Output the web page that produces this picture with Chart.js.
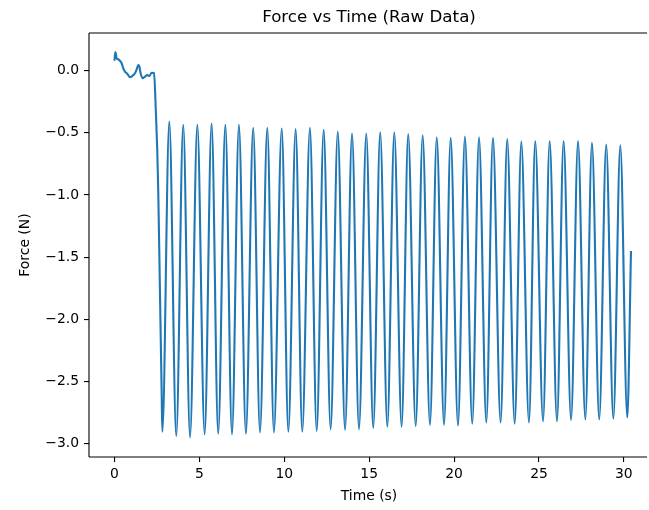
<!DOCTYPE html>
<html>
<head>
<meta charset="utf-8">
<script src="https://cdn.jsdelivr.net/npm/chart.js@4"></script>
<style>
  html, body { margin: 0; padding: 0; background: #fff; overflow: hidden; }
  canvas { display: block; }
</style>
</head>
<body>
<canvas id="forceChart" width="649" height="510"></canvas>
<script>
  // raw readings before the oscillation starts, and the drop
  var startTime = [0.00, 0.05, 0.13, 0.22, 0.32, 0.42, 0.52, 0.62, 0.72, 0.81, 0.91, 1.01, 1.11, 1.21,
                   1.31, 1.40, 1.46, 1.54, 1.66, 1.80, 1.93, 2.05, 2.19, 2.33, 2.44, 2.52, 2.58, 2.68, 2.78];
  var startForce = [0.080, 0.150, 0.100, 0.092, 0.080, 0.060, 0.019, -0.008, -0.021, -0.035, -0.053, -0.048, -0.035, -0.021,
                    0.011, 0.046, 0.038, -0.021, -0.061, -0.048, -0.035, -0.043, -0.016, -0.019, -0.34, -0.64, -0.98, -1.79, -2.59];

  // oscillation minima
  var troughTime = [2.82, 3.64, 4.45, 5.31, 6.11, 6.92, 7.74, 8.57, 9.39, 10.24, 11.06, 11.91, 12.73, 13.58,
                    14.40, 15.24, 16.07, 16.91, 17.74, 18.58, 19.41, 20.23, 21.07, 21.90, 22.74, 23.57, 24.41,
                    25.24, 26.06, 26.89, 27.73, 28.55, 29.38, 30.20];
  var troughForce = [-2.905, -2.94, -2.95, -2.925, -2.92, -2.925, -2.92, -2.91, -2.91, -2.905, -2.905, -2.90, -2.885, -2.89,
                     -2.885, -2.875, -2.865, -2.865, -2.86, -2.85, -2.85, -2.855, -2.84, -2.83, -2.83, -2.84, -2.83,
                     -2.82, -2.82, -2.81, -2.805, -2.805, -2.80, -2.79];

  // oscillation maxima
  var peakTime = [3.23, 4.05, 4.88, 5.72, 6.53, 7.33, 8.17, 9.00, 9.85, 10.67, 11.51, 12.32, 13.15, 13.99, 14.83,
                  15.65, 16.48, 17.30, 18.15, 18.98, 19.80, 20.64, 21.47, 22.29, 23.13, 23.96, 24.78, 25.63,
                  26.45, 27.30, 28.12, 28.96, 29.79];
  var peakForce = [-0.41, -0.435, -0.435, -0.425, -0.435, -0.435, -0.46, -0.46, -0.465, -0.47, -0.46, -0.475, -0.49, -0.505, -0.505,
                   -0.495, -0.495, -0.51, -0.52, -0.535, -0.54, -0.53, -0.535, -0.54, -0.55, -0.57, -0.565, -0.565,
                   -0.565, -0.565, -0.58, -0.595, -0.60];

  var endTime = [30.42];
  var endForce = [-1.45];

  var xTicks = [0, 5, 10, 15, 20, 25, 30];
  var yTicks = [0.0, -0.5, -1.0, -1.5, -2.0, -2.5, -3.0];

  // put all the readings in time order
  var points = [];
  startTime.forEach(function (t, i) { points.push({ x: t, y: startForce[i] }); });
  troughTime.forEach(function (t, i) {
    points.push({ x: t, y: troughForce[i] });
    if (i < peakTime.length) points.push({ x: peakTime[i], y: peakForce[i] });
  });
  endTime.forEach(function (t, i) { points.push({ x: t, y: endForce[i] }); });

  var font = { family: 'DejaVu Sans', size: 13.9 };

  // box round the plot (the right side is cut off in the original picture)
  var frame = {
    id: 'frame',
    afterDraw: function (chart) {
      var a = chart.chartArea, c = chart.ctx;
      var end = chart.width - 2;
      c.save();
      c.strokeStyle = '#000';
      c.lineWidth = 1.1;
      c.beginPath();
      c.moveTo(a.left, a.top); c.lineTo(end, a.top);
      c.moveTo(a.left, a.top); c.lineTo(a.left, a.bottom);
      c.moveTo(a.left, a.bottom); c.lineTo(end, a.bottom);
      c.stroke();
      c.restore();
    }
  };

  var ctx = document.getElementById('forceChart').getContext('2d');
  var forceChart = new Chart(ctx, {
    type: 'line',
    data: {
      datasets: [{
        data: points,
        borderColor: '#1f77b4',
        borderWidth: 2.1,
        pointRadius: 0,
        fill: false,
        cubicInterpolationMode: 'monotone'
      }]
    },
    options: {
      responsive: false,
      animation: false,
      plugins: {
        legend: { display: false },
        tooltip: { enabled: false },
        title: {
          display: true,
          text: 'Force vs Time (Raw Data)',
          fullSize: false,
          color: '#000',
          font: { family: 'DejaVu Sans', size: 16.7, weight: 'normal' },
          padding: { top: 7.5, bottom: 5.5 }
        }
      },
      scales: {
        x: {
          type: 'linear',
          min: -1.5,
          max: 31.48,
          afterBuildTicks: function (s) { s.ticks = xTicks.map(function (v) { return { value: v }; }); },
          afterFit: function (s) { s.height = 53; },
          border: { display: false },
          grid: { drawOnChartArea: false, drawTicks: true, tickLength: 5, color: '#000', lineWidth: 1.1 },
          ticks: {
            color: '#000', font: font, padding: 4, maxRotation: 0, autoSkip: false,
            callback: function (v) { return String(v); }
          },
          title: { display: true, text: 'Time (s)', color: '#000', font: font, padding: { top: 0, bottom: 5.7 } }
        },
        y: {
          type: 'linear',
          min: -3.108,
          max: 0.303,
          afterBuildTicks: function (s) { s.ticks = yTicks.map(function (v) { return { value: v }; }); },
          afterFit: function (s) { s.width = 89; },
          border: { display: false },
          grid: { drawOnChartArea: false, drawTicks: true, tickLength: 5, color: '#000', lineWidth: 1.1 },
          ticks: {
            color: '#000', font: font, padding: 5, autoSkip: false,
            callback: function (v) { return v.toFixed(1).replace('-', '\u2212'); }
          },
          title: { display: true, text: 'Force (N)', color: '#000', font: font, padding: { top: 16.7, bottom: 0 } }
        }
      }
    },
    plugins: [frame]
  });
</script>
</body>
</html>
